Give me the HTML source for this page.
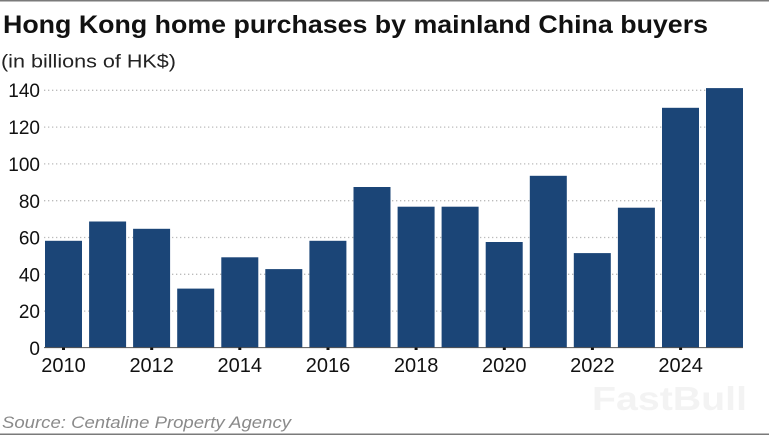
<!DOCTYPE html>
<html><head><meta charset="utf-8"><style>
html,body{margin:0;padding:0;background:#fff;}
svg{display:block;}
text{font-family:"Liberation Sans",sans-serif;}
</style></head><body>
<svg width="769" height="435" viewBox="0 0 769 435" xmlns="http://www.w3.org/2000/svg">
<rect x="0" y="0" width="769" height="435" fill="#fff"/>
<rect x="0" y="0" width="769" height="1.5" fill="#7a7a7a"/>
<rect x="0" y="433.5" width="769" height="1.5" fill="#7a7a7a"/>
<text x="3" y="33" font-size="25" font-weight="bold" fill="#111" textLength="705" lengthAdjust="spacingAndGlyphs">Hong Kong home purchases by mainland China buyers</text>
<text x="1" y="67.5" font-size="18.5" fill="#222" textLength="175" lengthAdjust="spacingAndGlyphs">(in billions of HK$)</text>
<g stroke="#bbb" stroke-width="1.3" stroke-dasharray="1.3,2.7">
<line x1="44" y1="90.3" x2="743" y2="90.3"/>
<line x1="44" y1="127.1" x2="743" y2="127.1"/>
<line x1="44" y1="163.9" x2="743" y2="163.9"/>
<line x1="44" y1="200.7" x2="743" y2="200.7"/>
<line x1="44" y1="237.5" x2="743" y2="237.5"/>
<line x1="44" y1="274.3" x2="743" y2="274.3"/>
<line x1="44" y1="311.1" x2="743" y2="311.1"/>
</g>
<g font-size="19" fill="#111" text-anchor="end">
<text x="40" y="97">140</text>
<text x="40" y="134">120</text>
<text x="40" y="171">100</text>
<text x="40" y="208">80</text>
<text x="40" y="244.5">60</text>
<text x="40" y="281.5">40</text>
<text x="40" y="318">20</text>
<text x="40" y="355">0</text>
</g>
<g fill="#1b4577">
<rect x="45" y="240.8" width="37" height="106.7"/>
<rect x="89.1" y="221.5" width="37" height="126"/>
<rect x="133.1" y="228.8" width="37" height="118.7"/>
<rect x="177.2" y="288.6" width="37" height="58.9"/>
<rect x="221.3" y="257.3" width="37" height="90.2"/>
<rect x="265.3" y="269.1" width="37" height="78.4"/>
<rect x="309.4" y="240.8" width="37" height="106.7"/>
<rect x="353.5" y="187.0" width="37" height="160.5"/>
<rect x="397.6" y="206.7" width="37" height="140.8"/>
<rect x="441.6" y="206.7" width="37" height="140.8"/>
<rect x="485.7" y="242.0" width="37" height="105.5"/>
<rect x="529.8" y="175.8" width="37" height="171.7"/>
<rect x="573.8" y="253.1" width="37" height="94.4"/>
<rect x="617.9" y="207.7" width="37" height="139.8"/>
<rect x="662.0" y="107.8" width="37" height="239.7"/>
<rect x="706" y="88.1" width="37" height="259.4"/>
</g>
<line x1="44" y1="347.6" x2="743" y2="347.6" stroke="#555" stroke-width="1"/>
<g fill="#111">
<rect x="62" y="347.5" width="3" height="2.5"/>
<rect x="150.2" y="347.5" width="3" height="2.5"/>
<rect x="238.3" y="347.5" width="3" height="2.5"/>
<rect x="326.5" y="347.5" width="3" height="2.5"/>
<rect x="414.6" y="347.5" width="3" height="2.5"/>
<rect x="502.8" y="347.5" width="3" height="2.5"/>
<rect x="590.9" y="347.5" width="3" height="2.5"/>
<rect x="679.1" y="347.5" width="3" height="2.5"/>
</g>
<g font-size="20" fill="#111" text-anchor="middle">
<text x="63.5" y="372">2010</text>
<text x="151.7" y="372">2012</text>
<text x="239.8" y="372">2014</text>
<text x="328" y="372">2016</text>
<text x="416.1" y="372">2018</text>
<text x="504.3" y="372">2020</text>
<text x="592.4" y="372">2022</text>
<text x="680.6" y="372">2024</text>
</g>
<text x="592" y="410" font-size="33" font-weight="bold" fill="#f3f3f3" textLength="155" lengthAdjust="spacingAndGlyphs">FastBull</text>
<text x="2" y="428" font-size="16.5" font-style="italic" fill="#8a8a8a" textLength="289" lengthAdjust="spacingAndGlyphs">Source: Centaline Property Agency</text>
</svg>
</body></html>
